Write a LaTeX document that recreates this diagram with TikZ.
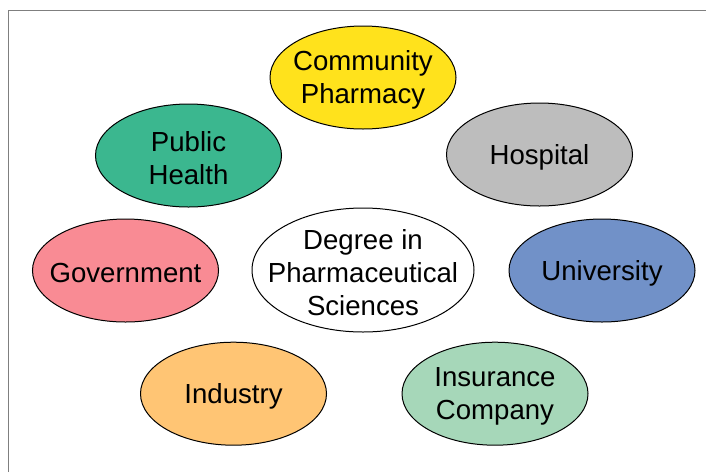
\documentclass[tikz,border=0pt]{standalone}
\usepackage{fontspec}
\setmainfont{Liberation Sans}
\usetikzlibrary{shapes.geometric}
\definecolor{pharmacyyellow}{HTML}{FFE21C}
\definecolor{healthgreen}{HTML}{3BB78F}
\definecolor{hospitalgray}{HTML}{BDBDBD}
\definecolor{governmentpink}{HTML}{F98B94}
\definecolor{universityblue}{HTML}{7191C8}
\definecolor{industryorange}{HTML}{FFC574}
\definecolor{insurancegreen}{HTML}{A6D7B9}
\definecolor{framegray}{HTML}{7F7F7F}
\tikzset{
    bubble/.style={ellipse, draw=black, line width=0.5pt, inner sep=0pt, minimum width=93pt, minimum height=51.5pt},
    bigbubble/.style={bubble, fill=white, minimum width=111pt, minimum height=62pt},
    bubbletext/.style={align=center, font=\fontsize{13.8}{16.5}\selectfont, inner sep=0pt, yshift=-1.2pt}
}

\begin{document}
\begin{tikzpicture}[x=0.5pt, y=-0.5pt]
            \useasboundingbox (0,0) rectangle (706,472);
            \draw[framegray, line width=0.9pt] (8.5,472) -- (8.5,10.5) -- (706,10.5);

            \node[bigbubble] (degree) at (363,270) {};
            \node[bubble, fill=pharmacyyellow] (pharmacy) at (363,77.5) {};
            \node[bubble, fill=healthgreen] (health) at (188.5,155.5) {};
            \node[bubble, fill=hospitalgray] (hospital) at (539.5,154.5) {};
            \node[bubble, fill=governmentpink] (government) at (125.5,270.5) {};
            \node[bubble, fill=universityblue] (university) at (602,270.5) {};
            \node[bubble, fill=industryorange] (industry) at (233.5,393.7) {};
            \node[bubble, fill=insurancegreen] (insurance) at (495,393.7) {};

            \node[bubbletext] (degreetext) at (degree) {Degree in\\Pharmaceutical\\Sciences};
            \node[bubbletext] (pharmacytext) at (pharmacy) {Community\\Pharmacy};
            \node[bubbletext] (healthtext) at (health) {Public\\Health};
            \node[bubbletext] (hospitaltext) at (hospital) {Hospital};
            \node[bubbletext] (governmenttext) at (government) {Government};
            \node[bubbletext] (universitytext) at (university) {University};
            \node[bubbletext] (industrytext) at (industry) {Industry};
            \node[bubbletext] (insurancetext) at (insurance) {Insurance\\Company};
        \end{tikzpicture}
\end{document}
